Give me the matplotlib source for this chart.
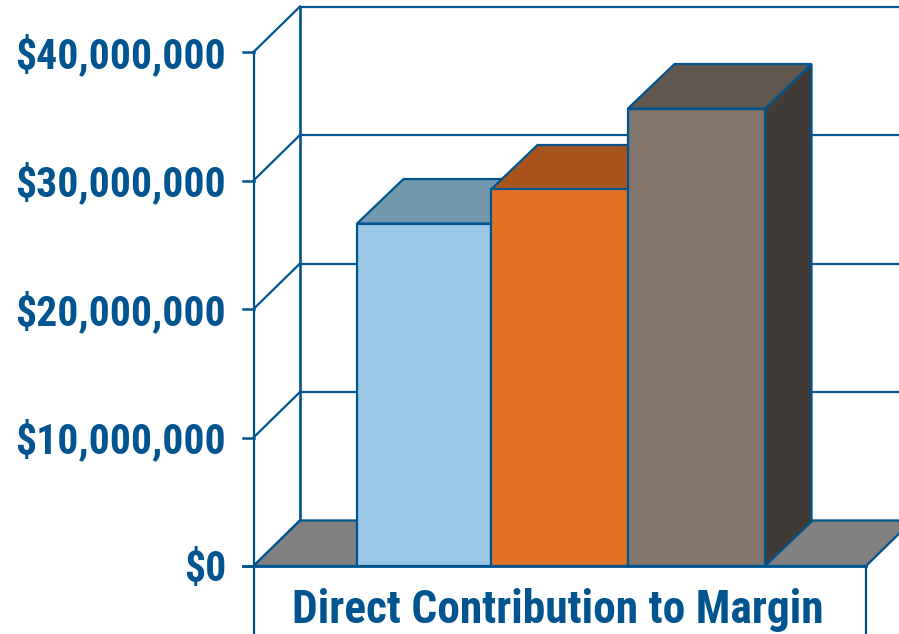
import matplotlib
matplotlib.use('Agg')
import matplotlib.pyplot as plt
from matplotlib.patches import Polygon

# contribution per bar, dollars
bar_values = [26650000, 29300000, 35600000]
front_colors = ['#9BC7E6', '#E17125', '#82756C']
top_colors = ['#7397AD', '#A9541C', '#61574F']
side_colors = ['#6E8CA0', '#A9541C', '#413B37']
tick_values = [0, 10000000, 20000000, 30000000, 40000000]
tick_labels = ['$0', '$10,000,000', '$20,000,000', '$30,000,000', '$40,000,000']
category_label = 'Direct Contribution to Margin'

LINE = '#00548F'
FLOOR = '#808080'
FONT = ['Roboto Condensed', 'Liberation Sans', 'DejaVu Sans']

# one x unit is one bar wide, y axis is plain dollars
PX_X = 136.0
PX_Y = 514.0 / 40000000
depth_x = 46.5 / PX_X
depth_y = 45.5 / PX_Y
bar_depth_y = 44.5 / PX_Y
left = -103.5 / PX_X
right = 509.0 / PX_X
tick_len = 11.0 / PX_X
# bar edges, the first bar is a little narrower
edges = [0, 134.0 / PX_X, 271.0 / PX_X, 408.0 / PX_X]

fig = plt.figure(figsize=(8.99, 6.34), dpi=100)
ax = fig.add_axes([0, 0, 1, 1])
ax.set_xlim(-357.0 / PX_X, 542.0 / PX_X)
ax.set_ylim(-68.0 / PX_Y, 566.0 / PX_Y)
ax.axis('off')

# back wall and side wall grid
for v in tick_values:
    ax.plot([left - tick_len, left], [v, v], color=LINE, lw=1.8, zorder=1)
    ax.plot([left, left + depth_x], [v, v + depth_y], color=LINE, lw=1.6, zorder=1)
    ax.plot([left + depth_x, right + depth_x], [v + depth_y, v + depth_y], color=LINE, lw=1.6, zorder=1)
ax.plot([left + depth_x, left + depth_x], [depth_y, tick_values[-1] + depth_y], color=LINE, lw=1.9, zorder=1)
ax.plot([left, left], [ax.get_ylim()[0], tick_values[-1]], color=LINE, lw=1.6, zorder=1)
ax.plot([right, right], [ax.get_ylim()[0], 0], color=LINE, lw=1.6, zorder=1)

# floor
ax.add_patch(Polygon([(left, 0), (left + depth_x, depth_y), (right + depth_x, depth_y), (right, 0)],
                     facecolor=FLOOR, edgecolor=LINE, lw=1.6, zorder=2))

# bars, left to right so each one covers the side of the previous
for i, val in enumerate(bar_values):
    z = 3 + i
    x0, x1 = edges[i], edges[i + 1]
    ax.add_patch(Polygon([(x1, 0), (x1 + depth_x, bar_depth_y), (x1 + depth_x, val + bar_depth_y), (x1, val)],
                         facecolor=side_colors[i], edgecolor=LINE, lw=1.6, zorder=z))
    ax.add_patch(Polygon([(x0, val), (x0 + depth_x, val + bar_depth_y), (x1 + depth_x, val + bar_depth_y), (x1, val)],
                         facecolor=top_colors[i], edgecolor=LINE, lw=1.6, zorder=z))
    ax.bar((x0 + x1) / 2, val, width=x1 - x0, color=front_colors[i], edgecolor=LINE, lw=1.6, zorder=z)

# front edge of the floor on top of the bars
ax.plot([left - tick_len, right], [0, 0], color=LINE, lw=2.0, zorder=8)

# labels sit a touch above their tick
for v, lab in zip(tick_values, tick_labels):
    ax.text(-131.0 / PX_X, v + 1.0 / PX_Y, lab, ha='right', va='center_baseline', color=LINE,
            fontsize=30, fontweight='bold', family=FONT)

ax.text(201.0 / PX_X, -40.0 / PX_Y, category_label, ha='center', va='center_baseline', color=LINE,
        fontsize=32.8, fontweight='bold', family=FONT)

fig.savefig('out.png', dpi=100)
